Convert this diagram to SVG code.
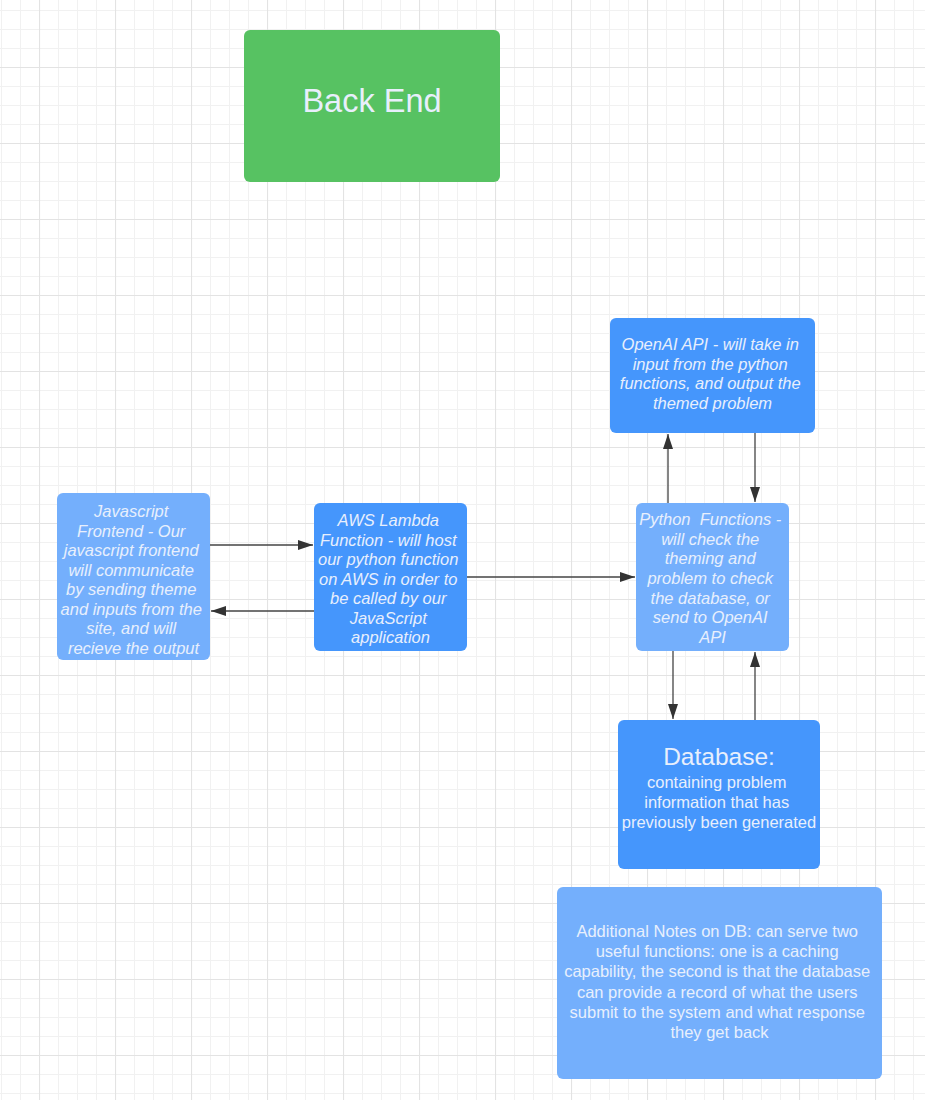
<svg xmlns="http://www.w3.org/2000/svg" width="925" height="1100" viewBox="0 0 925 1100">
<style>
.lbl{font-family:"Liberation Sans",Arial,sans-serif;font-size:16.5px;fill:#e8effc;text-anchor:middle}
.it{font-style:italic}
.light{fill:#74affc}
.dark{fill:#4596fc}
.conn{stroke:#444444;stroke-width:1.3;fill:none;marker-end:url(#arr)}
</style>
<defs>
<pattern id="grid" patternUnits="userSpaceOnUse" x="39" y="67" width="76" height="76">
<path d="M19.5,0V76M38.5,0V76M57.5,0V76M0,19.5H76M0,38.5H76M0,57.5H76" stroke="#f1f1f1" stroke-width="1"/>
<path d="M0.5,0V76M0,0.5H76" stroke="#e3e3e3" stroke-width="1.2"/>
</pattern>
<marker id="arr" markerUnits="userSpaceOnUse" markerWidth="16" markerHeight="10" refX="15" refY="5" orient="auto">
<path d="M0,0L15,5L0,10z" fill="#333333"/>
</marker>
</defs>
<rect width="925" height="1100" fill="#ffffff"/>
<rect width="925" height="1100" fill="url(#grid)"/>

<g id="connectors">
<line class="conn" x1="210" y1="545" x2="313" y2="545"/>
<line class="conn" x1="314" y1="611" x2="211" y2="611"/>
<line class="conn" x1="467" y1="577" x2="635" y2="577"/>
<line class="conn" x1="668" y1="503" x2="668" y2="434"/>
<line class="conn" x1="755" y1="433" x2="755" y2="502"/>
<line class="conn" x1="673" y1="651" x2="673" y2="719"/>
<line class="conn" x1="755" y1="720" x2="755" y2="652"/>
</g>

<g id="backend">
<rect x="244" y="30" width="256" height="152" rx="6" fill="#57c262"/>
<text class="lbl" x="372" y="112" style="font-size:32.5px">Back End</text>
</g>

<g id="js-frontend">
<rect class="light" x="57" y="493" width="153" height="167" rx="6"/>
<text class="lbl it">
<tspan x="133.5" y="517">Javascript</tspan>
<tspan x="133.5" y="536.5">Frontend - Our</tspan>
<tspan x="133.5" y="556">javascript frontend</tspan>
<tspan x="133.5" y="575.5">will communicate</tspan>
<tspan x="133.5" y="595">by sending theme</tspan>
<tspan x="133.5" y="614.5">and inputs from the</tspan>
<tspan x="133.5" y="634">site, and will</tspan>
<tspan x="133.5" y="653.5">recieve the output</tspan>
</text>
</g>

<g id="aws-lambda">
<rect class="dark" x="314" y="503" width="153" height="148" rx="6"/>
<text class="lbl it">
<tspan x="390.5" y="526">AWS Lambda</tspan>
<tspan x="390.5" y="545.5">Function - will host</tspan>
<tspan x="390.5" y="565">our python function</tspan>
<tspan x="390.5" y="584.5">on AWS in order to</tspan>
<tspan x="390.5" y="604">be called by our</tspan>
<tspan x="390.5" y="623.5">JavaScript</tspan>
<tspan x="390.5" y="643">application</tspan>
</text>
</g>

<g id="openai">
<rect class="dark" x="610" y="318" width="205" height="115" rx="6"/>
<text class="lbl it">
<tspan x="712.5" y="350">OpenAI API - will take in</tspan>
<tspan x="712.5" y="369.7">input from the python</tspan>
<tspan x="712.5" y="389.4">functions, and output the</tspan>
<tspan x="712.5" y="409">themed problem</tspan>
</text>
</g>

<g id="python">
<rect class="light" x="636" y="503" width="153" height="148" rx="6"/>
<text class="lbl it">
<tspan x="712.5" y="525" xml:space="preserve">Python  Functions -</tspan>
<tspan x="712.5" y="544.7">will check the</tspan>
<tspan x="712.5" y="564.3">theming and</tspan>
<tspan x="712.5" y="584">problem to check</tspan>
<tspan x="712.5" y="603.7">the database, or</tspan>
<tspan x="712.5" y="623.3">send to OpenAI</tspan>
<tspan x="712.5" y="643">API</tspan>
</text>
</g>

<g id="database">
<rect class="dark" x="618" y="720" width="202" height="149" rx="6"/>
<text class="lbl" x="719" y="765" style="font-size:24.5px">Database:</text>
<text class="lbl">
<tspan x="719" y="788">containing problem</tspan>
<tspan x="719" y="808">information that has</tspan>
<tspan x="719" y="828">previously been generated</tspan>
</text>
</g>

<g id="notes">
<rect class="light" x="557" y="887" width="325" height="192" rx="6"/>
<text class="lbl">
<tspan x="719.5" y="937">Additional Notes on DB: can serve two</tspan>
<tspan x="719.5" y="957.2">useful functions: one is a caching</tspan>
<tspan x="719.5" y="977.4">capability, the second is that the database</tspan>
<tspan x="719.5" y="997.6">can provide a record of what the users</tspan>
<tspan x="719.5" y="1017.8">submit to the system and what response</tspan>
<tspan x="719.5" y="1038">they get back</tspan>
</text>
</g>
</svg>
